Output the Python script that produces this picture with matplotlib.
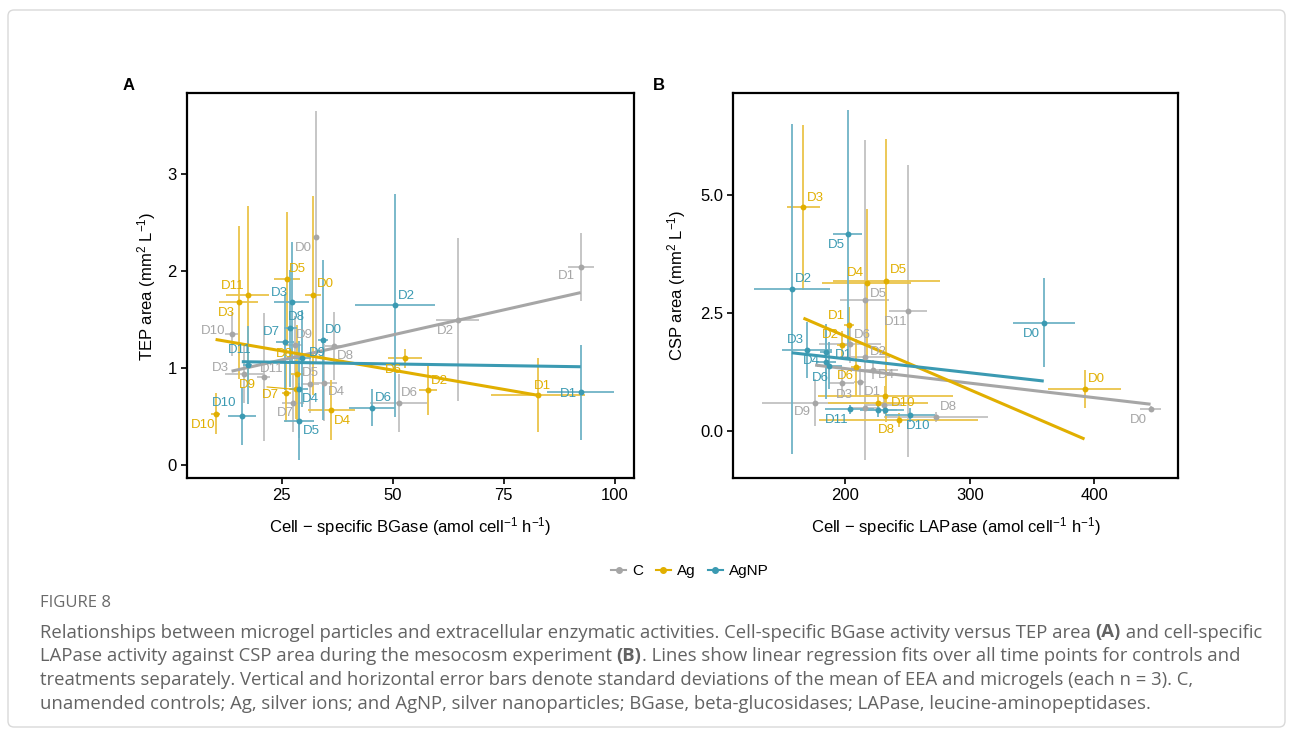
import matplotlib
matplotlib.use('Agg')
import matplotlib.pyplot as plt
import matplotlib.transforms as mtransforms
from matplotlib.lines import Line2D
from matplotlib.patches import FancyBboxPatch
import numpy as np

plt.rcParams['font.family'] = ['Liberation Sans', 'DejaVu Sans']
plt.rcParams['mathtext.fontset'] = 'custom'
plt.rcParams['mathtext.rm'] = 'Liberation Sans'
plt.rcParams['mathtext.it'] = 'Liberation Sans:italic'
plt.rcParams['mathtext.bf'] = 'Liberation Sans:bold'

groups = ['C', 'Ag', 'AgNP']
colors = {'C': '#A6A6A6', 'Ag': '#E1AF00', 'AgNP': '#3B9AB2'}
bar_colors = {'C': '#C2C2C2', 'Ag': '#EAC44A', 'AgNP': '#6FB3C6'}
days = ['D0', 'D1', 'D2', 'D3', 'D4', 'D5', 'D6', 'D7', 'D8', 'D9', 'D10', 'D11']

# ---- panel A: cell-specific BGase vs TEP area ----
bgase_C = [32.7, 92.3, 64.6, 16.6, 34.5, 31.4, 51.3, 27.6, 36.8, 28.0, 13.7, 20.9]
bgase_C_sd = [0.4, 2.9, 4.9, 4.3, 3.0, 2.0, 6.4, 2.5, 2.0, 1.5, 1.5, 1.5]
tep_C = [2.35, 2.04, 1.50, 0.94, 0.85, 0.84, 0.64, 0.64, 1.23, 1.24, 1.35, 0.91]
tep_C_sd = [1.30, 0.35, 0.84, 0.30, 0.40, 0.30, 0.30, 0.30, 0.35, 0.30, 0.23, 0.66]

bgase_Ag = [32.1, 82.7, 57.9, 15.3, 36.1, 26.1, 52.8, 26.0, 28.5, 28.2, 10.1, 17.3]
bgase_Ag_sd = [1.8, 10.5, 2.0, 4.4, 5.3, 2.9, 3.8, 1.0, 1.5, 1.5, 1.0, 4.9]
tep_Ag = [1.75, 0.72, 0.77, 1.68, 0.57, 1.92, 1.10, 0.74, 0.94, 0.78, 0.53, 1.75]
tep_Ag_sd = [1.03, 0.38, 0.25, 0.79, 0.31, 0.69, 0.10, 0.30, 0.50, 0.30, 0.21, 0.92]

bgase_AgNP = [34.2, 92.3, 50.5, 27.2, 28.9, 28.9, 45.3, 25.7, 26.9, 29.5, 16.0, 17.3]
bgase_AgNP_sd = [1.1, 7.5, 9.0, 4.0, 2.0, 3.4, 5.1, 2.0, 1.5, 2.0, 3.1, 1.0]
tep_AgNP = [1.29, 0.75, 1.65, 1.68, 0.78, 0.45, 0.59, 1.27, 1.41, 1.10, 0.51, 1.03]
tep_AgNP_sd = [0.83, 0.49, 1.15, 0.62, 0.50, 0.40, 0.19, 0.50, 0.60, 0.50, 0.30, 0.40]

# ---- panel B: cell-specific LAPase vs CSP area ----
lapase_C = [445, 212, 216, 197.3, 222.7, 215.5, 204, 216, 273, 175.9, 230.8, 250.4]
lapase_C_sd = [8.3, 5, 20, 10, 20, 20, 25, 12, 41.5, 43, 15, 15]
csp_C = [0.47, 1.03, 1.58, 1.01, 1.30, 2.78, 1.84, 0.48, 0.30, 0.60, 0.55, 2.55]
csp_C_sd = [0.05, 0.3, 0.5, 0.3, 0.2, 3.4, 0.4, 0.3, 0.1, 0.5, 0.2, 3.1]

lapase_Ag = [392, 202.7, 197.3, 166.5, 217.4, 232.9, 208.3, 226.3, 242.8, 232.1]
lapase_Ag_sd = [29, 4, 4, 12.9, 35.7, 43, 4, 40, 64, 54]
csp_Ag = [0.89, 2.24, 1.83, 4.75, 3.15, 3.19, 1.35, 0.59, 0.23, 0.75]
csp_Ag_sd = [0.4, 0.4, 0.3, 1.75, 1.56, 3.0, 0.6, 0.2, 0.15, 0.2]
days_Ag_B = ['D0', 'D1', 'D2', 'D3', 'D4', 'D5', 'D6', 'D7', 'D8', 'D10']

lapase_AgNP = [359.3, 184.7, 157.2, 169.7, 187.4, 202.2, 184.7, 226.7, 232.1, 252.2, 203.5]
lapase_AgNP_sd = [24.9, 5, 30.5, 20, 10, 11.6, 8, 15, 15, 20, 20]
csp_AgNP = [2.30, 1.67, 3.02, 1.72, 1.39, 4.18, 1.47, 0.45, 0.45, 0.34, 0.46]
csp_AgNP_sd = [0.95, 0.5, 3.5, 0.6, 0.5, 2.64, 0.8, 0.15, 0.1, 0.15, 0.1]
days_AgNP_B = ['D0', 'D1', 'D2', 'D3', 'D4', 'D5', 'D6', 'D7', 'D8', 'D10', 'D11']

# regression lines (slope, intercept)
fitA = {'C': (0.01032, 0.827), 'Ag': (-0.00794, 1.376), 'AgNP': (-0.00068, 1.077)}
fitB = {'C': (-0.00309, 1.943), 'Ag': (-0.01138, 4.29), 'AgNP': (-0.00297, 2.127)}

# label offsets in points (None = label hidden)
offA = {
    'C': [(-9, -8), (-10, -6), (-9, -8), (-17, 4), (9, -7), (0, 8), (8, 7),
          (-6, -7), (8, -7), (6.5, 7), (-13.5, 2), (6, 6)],
    'Ag': [(8.5, 8), (3.5, 6.5), (8, 7), (-8.5, -8), (8, -8), (8, 7), (-8.5, -8),
           (-11.5, -1), (-9.5, 14), (-35, 3), (-9, -8), (-10.5, 7)],
    'AgNP': [(8, 7), (-9, -1), (8, 6.5), (-9, 7), (8, -7), (8.5, -7), (8, 7),
             (-10, 7), (4.5, 8), (11, 4), (-13, 9), (-5.5, 11)],
}
offB = {
    'C': [(-8.5, -8), (8.5, -7), (9.5, 3.5), (2, -8.5), (9.5, -4), (10, 4), (9, 7),
          None, (9, 7), (-9, -7), None, (-9, -8)],
    'Ag': [(8.5, 7), (-9, 6.5), (-8.5, 7), (8.5, 7), (-8.5, 7), (9, 8), (-7, -6),
           None, (-9, -7), (13, -5.5)],
    'AgNP': [(-9, -8), (12.5, -2), (8.5, 7), (-9, 7), (-13, 3.5), (-8.5, -8), (-4, -12),
             None, None, (6, -8), (-9, -8)],
}

dataA = {'C': (bgase_C, bgase_C_sd, tep_C, tep_C_sd, days),
         'Ag': (bgase_Ag, bgase_Ag_sd, tep_Ag, tep_Ag_sd, days),
         'AgNP': (bgase_AgNP, bgase_AgNP_sd, tep_AgNP, tep_AgNP_sd, days)}
dataB = {'C': (lapase_C, lapase_C_sd, csp_C, csp_C_sd, days),
         'Ag': (lapase_Ag, lapase_Ag_sd, csp_Ag, csp_Ag_sd, days_Ag_B),
         'AgNP': (lapase_AgNP, lapase_AgNP_sd, csp_AgNP, csp_AgNP_sd, days_AgNP_B)}


def draw_panel(ax, data, fits, offs):
    for g in groups:
        x, xe, y, ye, lab = data[g]
        ax.errorbar(x, y, xerr=xe, yerr=ye, fmt='none', ecolor=bar_colors[g],
                    elinewidth=1.3, capsize=0, zorder=2)
    for g in groups:
        x = np.array(data[g][0])
        slope, icpt = fits[g]
        xs = np.array([x.min(), x.max()])
        ax.plot(xs, icpt + slope * xs, color=colors[g], lw=2.2, zorder=3,
                solid_capstyle='butt')
    for g in groups:
        x, xe, y, ye, lab = data[g]
        ax.scatter(x, y, s=18, color=colors[g], zorder=4, linewidths=0)
        for xi, yi, d, o in zip(x, y, lab, offs[g]):
            if o is None:
                continue
            arrow = None
            if np.hypot(*o) > 18:
                arrow = dict(arrowstyle='-', color=colors[g], lw=0.8,
                             shrinkA=6, shrinkB=2)
            ax.annotate(d, (xi, yi), xytext=o, textcoords='offset points',
                        ha='center', va='center', color=colors[g],
                        fontsize=9.5, zorder=5, arrowprops=arrow)
    for s in ax.spines.values():
        s.set_linewidth(1.6)
        s.set_color('black')
    ax.tick_params(direction='out', length=4, width=1.2, labelsize=12,
                   colors='black', pad=3)


fig = plt.figure(figsize=(12.93, 7.36), dpi=100)

card = FancyBboxPatch((8, 736 - 727), 1277, 717,
                      boxstyle='round,pad=0,rounding_size=6',
                      transform=mtransforms.IdentityTransform(),
                      facecolor='none', edgecolor='#D9D9D9', lw=1)
fig.patches.append(card)

axA = fig.add_axes([186.7 / 1293, 1 - 478.3 / 736, 447.3 / 1293, 385 / 736])
draw_panel(axA, dataA, fitA, offA)
axA.set_xlim(3.6, 104.3)
axA.set_ylim(-0.137, 3.836)
axA.set_xticks([25, 50, 75, 100])
axA.set_yticks([0, 1, 2, 3])
axA.set_xlabel('Cell \u2212 specific BGase (amol cell$^{-1}$ h$^{-1}$)', fontsize=12)
axA.set_ylabel('TEP area (mm$^{2}$ L$^{-1}$)', fontsize=12)
axA.xaxis.set_label_coords(0.5, -0.1257)
axA.xaxis.label.set_va('center')
axA.yaxis.set_label_coords(-0.0894, 0.5)
axA.yaxis.label.set_va('center')

axB = fig.add_axes([733 / 1293, 1 - 478.3 / 736, 445 / 1293, 385 / 736])
draw_panel(axB, dataB, fitB, offB)
axB.set_xlim(110, 467)
axB.set_ylim(-1.005, 7.17)
axB.set_xticks([200, 300, 400])
axB.set_yticks([0, 2.5, 5.0])
axB.set_yticklabels(['0.0', '2.5', '5.0'])
axB.set_xlabel('Cell \u2212 specific LAPase (amol cell$^{-1}$ h$^{-1}$)', fontsize=12)
axB.set_ylabel('CSP area (mm$^{2}$ L$^{-1}$)', fontsize=12)
axB.xaxis.set_label_coords(0.5, -0.1257)
axB.xaxis.label.set_va('center')
axB.yaxis.set_label_coords(-0.1265, 0.5)
axB.yaxis.label.set_va('center')

fig.text(129 / 1293, 1 - 86 / 736, 'A', fontsize=12, weight='bold', ha='center', va='center')
fig.text(659 / 1293, 1 - 86 / 736, 'B', fontsize=12, weight='bold', ha='center', va='center')

handles = [Line2D([0], [0], color=colors[g], marker='o', markersize=4, lw=1.5) for g in groups]
fig.legend(handles, groups, loc='center', bbox_to_anchor=(690 / 1293, 1 - 571 / 736),
           ncol=3, frameon=False, fontsize=11, handlelength=1.0, handletextpad=0.4,
           columnspacing=0.8)

# caption
cap = fig.add_axes([0, 0, 1, 1])
cap.axis('off')
cap.set_zorder(-1)
cap_font = dict(family=['Open Sans', 'DejaVu Sans'], color='#636363', fontsize=13.3)
cap.text(40 / 1293, 1 - 603 / 736, 'FIGURE 8', family=['Open Sans', 'DejaVu Sans'],
         color='#6A6A6A', fontsize=12, va='center')
lines = [
    [('Relationships between microgel particles and extracellular enzymatic activities. '
      'Cell-specific BGase activity versus TEP area ', False), ('(A)', True),
     (' and cell-specific', False)],
    [('LAPase activity against CSP area during the mesocosm experiment ', False), ('(B)', True),
     ('. Lines show linear regression fits over all time points for controls and', False)],
    [('treatments separately. Vertical and horizontal error bars denote standard deviations '
      'of the mean of EEA and microgels (each n = 3). C,', False)],
    [('unamended controls; Ag, silver ions; and AgNP, silver nanoparticles; BGase, '
      'beta-glucosidases; LAPase, leucine-aminopeptidases.', False)],
]
for i, parts in enumerate(lines):
    ypos = 1 - (632.5 + 23.8 * i) / 736
    prev = None
    for s, bold in parts:
        w = 'bold' if bold else 'normal'
        if prev is None:
            prev = cap.text(40 / 1293, ypos, s, va='center', weight=w, **cap_font)
        else:
            prev = cap.annotate(s, xy=(1, 0), xycoords=prev, va='bottom', ha='left',
                                weight=w, **cap_font)

fig.savefig('out.png', dpi=100)
